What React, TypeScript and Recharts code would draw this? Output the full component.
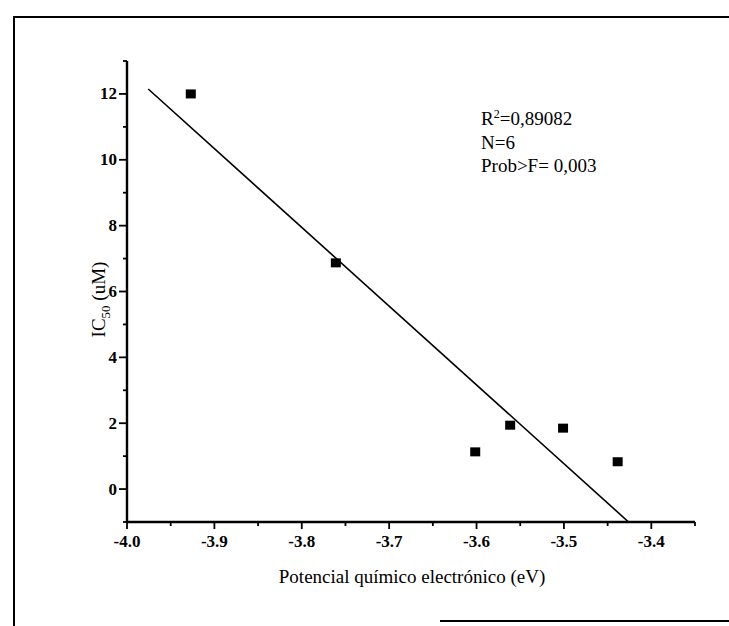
import { ScatterChart, Scatter, XAxis, YAxis, Label } from "recharts";

// measured points (potencial químico vs IC50)
const potencial = [-3.927, -3.761, -3.6015, -3.5615, -3.501, -3.4385];
const ic50 = [12.0, 6.87, 1.13, 1.94, 1.85, 0.83];

// fitted line, end points
const fitX = [-3.9757, -3.426];
const fitY = [12.15, -1.0];

const xMajorTicks = [-4.0, -3.9, -3.8, -3.7, -3.6, -3.5, -3.4];
const xMinorTicks = [-3.95, -3.85, -3.75, -3.65, -3.55, -3.45, -3.35];
const yMajorTicks = [0, 2, 4, 6, 8, 10, 12];
const yMinorTicks = [-1, 1, 3, 5, 7, 9, 11, 13];

const stats = ["=0,89082", "N=6", "Prob>F= 0,003"];

const points = potencial.map((x, i) => ({ x, y: ic50[i] }));
const fitLine = fitX.map((x, i) => ({ x, y: fitY[i] }));

const FONT = "'Liberation Serif', 'Times New Roman', serif";

const isIn = (arr: number[], v: number) => arr.some((a) => Math.abs(a - v) < 1e-6);

function YTick(props: any) {
	const { x, y, payload } = props;
	const major = isIn(yMajorTicks, payload.value);
	const len = major ? 8 : 4;
	return (
		<g>
			<line x1={x - len} y1={y} x2={x} y2={y} stroke="#000" strokeWidth={1.8} />
			{major && (
				<text x={x - len - 2} y={y} dy={5.5} textAnchor="end" fontFamily={FONT} fontWeight="bold" fontSize={17} fill="#000">
					{payload.value}
				</text>
			)}
		</g>
	);
}

function XTick(props: any) {
	const { x, y, payload } = props;
	const major = isIn(xMajorTicks, payload.value);
	const len = major ? 7 : 4;
	return (
		<g>
			<line x1={x} y1={y} x2={x} y2={y + len} stroke="#000" strokeWidth={1.8} />
			{major && (
				<text x={x} y={y + 25} textAnchor="middle" fontFamily={FONT} fontWeight="bold" fontSize={17} fill="#000">
					{payload.value.toFixed(1)}
				</text>
			)}
		</g>
	);
}

const Square = (props: any) => <rect x={props.cx - 5} y={props.cy - 4.5} width={10} height={9} fill="#000" />;

const NoDot = () => <g />;

export default function App() {
	return (
		<div style={{ position: "absolute", left: 0, top: 0, width: 729, height: 626, background: "#fff" }}>
			{/* scanned frame */}
			<div style={{ position: "absolute", left: 13, top: 16, width: 716, height: 610, borderLeft: "2px solid #000", borderTop: "2px solid #000" }} />
			<div style={{ position: "absolute", left: 440, top: 620, width: 289, height: 0, borderTop: "2px solid #000" }} />

			<ScatterChart width={729} height={626} margin={{ top: 61, right: 34, left: 67, bottom: 44 }} style={{ position: "absolute", left: 0, top: 0 }}>
				<XAxis
					type="number"
					dataKey="x"
					domain={[-4.0, -3.35]}
					ticks={[...xMajorTicks, ...xMinorTicks].sort((a, b) => a - b)}
					interval={0}
					tickSize={0}
					tickMargin={0}
					tick={<XTick />}
					height={60}
					axisLine={{ stroke: "#000", strokeWidth: 2.4 }}
					allowDataOverflow
				>
					<Label
						content={(p: any) => {
							const vb = p.viewBox;
							return (
								<text x={vb.x + vb.width / 2 + 1} y={vb.y + 61} textAnchor="middle" fontFamily={FONT} fontSize={19} fill="#000">
									Potencial químico electrónico (eV)
								</text>
							);
						}}
					/>
				</XAxis>
				<YAxis
					type="number"
					dataKey="y"
					domain={[-1, 13]}
					ticks={[...yMajorTicks, ...yMinorTicks].sort((a, b) => a - b)}
					interval={0}
					tickSize={0}
					tickMargin={0}
					tick={<YTick />}
					width={60}
					axisLine={{ stroke: "#000", strokeWidth: 2.4 }}
					allowDataOverflow
				>
					<Label
						content={(p: any) => {
							const vb = p.viewBox;
							const cx = vb.x + vb.width - 22;
							const cy = vb.y + vb.height / 2 + 8;
							return (
								<text x={cx} y={cy} transform={`rotate(-90 ${cx} ${cy})`} textAnchor="middle" fontFamily={FONT} fontSize={19} fill="#000">
									IC
									<tspan fontSize={13} dy={5}>50</tspan>
									<tspan dy={-5}> (uM)</tspan>
								</text>
							);
						}}
					/>
				</YAxis>
				<Scatter data={fitLine} line={{ stroke: "#000", strokeWidth: 1.6 }} shape={<NoDot />} isAnimationActive={false} legendType="none" />
				<Scatter data={points} shape={<Square />} isAnimationActive={false} />
			</ScatterChart>

			<div style={{ position: "absolute", left: 481, top: 107, fontFamily: FONT, fontSize: 19, lineHeight: "23.5px", color: "#000" }}>
				<div>
					R<sup style={{ fontSize: 12, verticalAlign: "7px", lineHeight: 0 }}>2</sup>
					{stats[0]}
				</div>
				<div>{stats[1]}</div>
				<div>{stats[2]}</div>
			</div>
		</div>
	);
}
